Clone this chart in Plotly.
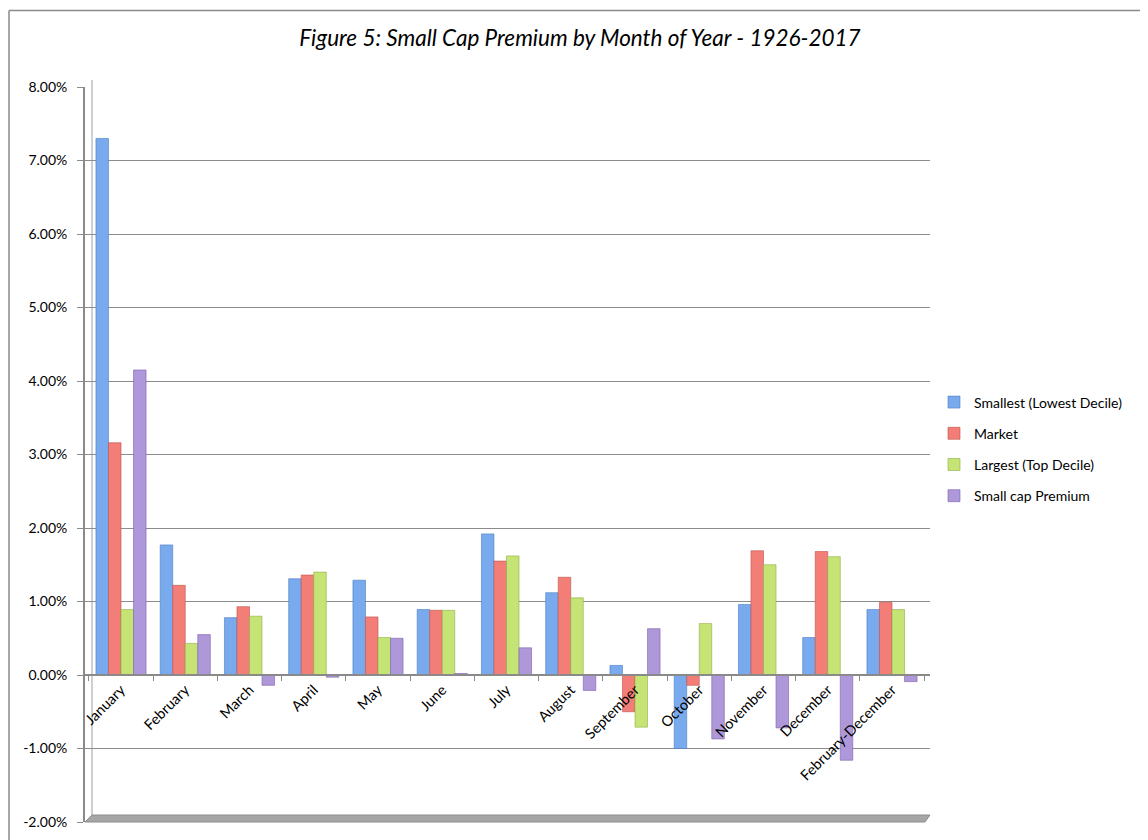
import plotly.graph_objects as go

months = ["January", "February", "March", "April", "May", "June", "July",
          "August", "September", "October", "November", "December",
          "February-December"]

smallest = [7.30, 1.77, 0.78, 1.31, 1.29, 0.89, 1.92, 1.12, 0.13, -1.00, 0.96, 0.51, 0.89]
market = [3.16, 1.22, 0.93, 1.36, 0.79, 0.88, 1.55, 1.33, -0.50, -0.14, 1.69, 1.68, 0.99]
largest = [0.89, 0.43, 0.80, 1.40, 0.51, 0.88, 1.62, 1.05, -0.71, 0.70, 1.50, 1.61, 0.89]
premium = [4.15, 0.55, -0.14, -0.03, 0.50, 0.02, 0.37, -0.21, 0.63, -0.87, -0.72, -1.16, -0.09]

series_names = ["Smallest (Lowest Decile)", "Market", "Largest (Top Decile)", "Small cap Premium"]
series_values = [smallest, market, largest, premium]
series_colors = ["#7AAAEE", "#F27E77", "#C6E476", "#AE98DA"]
series_lines = ["#4A7CC0", "#BE524C", "#8CAE44", "#7860A8"]

y_ticks = [-2, -1, 0, 1, 2, 3, 4, 5, 6, 7, 8]
y_tick_text = [f"{v:.2f}%\u00a0\u00a0" for v in y_ticks]

FONT = "Lato, 'Open Sans', sans-serif"

fig = go.Figure()
for i, (name, vals, col, lc) in enumerate(zip(series_names, series_values, series_colors, series_lines)):
    fig.add_trace(go.Bar(
        x=months, y=vals, name=name,
        marker=dict(color=col, line=dict(color=lc, width=0.6)),
        legendgroup=f"g{i}",
    ))

# page has an 8px body margin; work in page coordinates and convert
OFF = 8
W, H = 1148 - OFF, 840 - OFF
L = 85 - OFF
T = 87 - OFF
pw = 930 - 85
ph = 822 - 87
R = W - L - pw
B = H - T - ph


def px_x(p):
    return (p - OFF - L) / pw


def px_y(p):
    return (H - B - (p - OFF)) / ph


shapes = [
    # outer chart border (top and left)
    dict(type="line", xref="paper", yref="paper", x0=px_x(9), x1=px_x(1160),
         y0=px_y(10.5), y1=px_y(10.5), line=dict(color="#8A8A8A", width=1.5)),
    dict(type="line", xref="paper", yref="paper", x0=px_x(9), x1=px_x(9),
         y0=px_y(10.5), y1=px_y(850), line=dict(color="#8A8A8A", width=1.5)),
    # floor slab
    dict(type="path", xref="paper", yref="paper",
         path=f"M {px_x(85)},{px_y(822)} L {px_x(92)},{px_y(815)} L {px_x(930)},{px_y(815)} L {px_x(925)},{px_y(822)} Z",
         fillcolor="#A6A6A6", line=dict(color="#8C8C8C", width=1), layer="below"),
    # back wall left edge
    dict(type="line", xref="paper", yref="paper", x0=px_x(92), x1=px_x(92),
         y0=px_y(815), y1=px_y(80), line=dict(color="#A0A0A0", width=1), layer="below"),
]

cat_px = 64.25
x_lo = -(121 - 85) / cat_px
x_hi = x_lo + pw / cat_px

fig.update_layout(
    width=W, height=H,
    margin=dict(l=L, r=R, t=T, b=B, autoexpand=False),
    paper_bgcolor="white", plot_bgcolor="white",
    barmode="group", bargap=0.22, bargroupgap=0.0,
    font=dict(family=FONT, size=14, color="#000000"),
    title=dict(text="<i>Figure 5: Small Cap Premium by Month of Year - 1926-2017</i>",
               x=(580 - OFF) / W, xanchor="center", y=1 - (38 - OFF) / H, yanchor="middle",
               font=dict(family=FONT, size=22.5, color="#000000")),
    legend=dict(x=px_x(934), xanchor="left", y=px_y(449), yanchor="middle",
                font=dict(family=FONT, size=14, color="#000000"),
                tracegroupgap=10, bgcolor="rgba(0,0,0,0)", traceorder="grouped",
                itemwidth=30),
    shapes=shapes,
    xaxis=dict(
        type="category", range=[x_lo, x_hi],
        anchor="free", position=0.2,
        showline=True, linecolor="#8A8A8A", linewidth=1.5,
        ticks="outside", tickson="boundaries", ticklen=5, tickcolor="#8A8A8A",
        tickangle=-45, tickfont=dict(family=FONT, size=14.5),
        showgrid=False, zeroline=False,
    ),
    yaxis=dict(
        range=[-2, 8], tickvals=y_ticks, ticktext=y_tick_text,
        showline=True, linecolor="#8A8A8A", linewidth=1.5,
        ticks="outside", ticklen=6, tickcolor="#8A8A8A",
        showgrid=True, gridcolor="#8C8C8C", gridwidth=1.3,
        zeroline=False, tickfont=dict(family=FONT, size=14),
    ),
)

fig.write_html("out.html")
